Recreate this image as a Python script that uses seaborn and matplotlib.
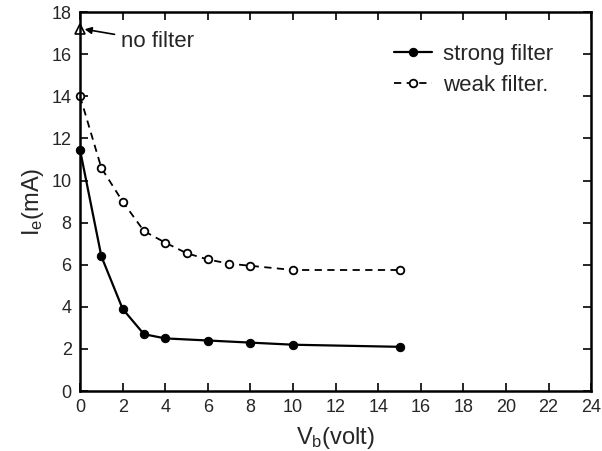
import numpy as np
import pandas as pd
import seaborn as sns
import matplotlib.pyplot as plt

# ----------------------------
# Data
# ----------------------------
strong_vb = [0, 1, 2, 3, 4, 6, 8, 10, 15]
strong_ie = [11.45, 6.4, 3.9, 2.7, 2.5, 2.4, 2.3, 2.2, 2.1]

weak_vb = [0, 1, 2, 3, 4, 5, 6, 7, 8, 10, 15]
weak_ie = [14.0, 10.6, 9.0, 7.6, 7.05, 6.55, 6.25, 6.05, 5.95, 5.75, 5.75]

nofilter_vb = [0]
nofilter_ie = [17.2]

xticks = list(range(0, 25, 2))
yticks = list(range(0, 19, 2))

sns.set_style("ticks")
plt.rcParams['font.family'] = ['Liberation Sans', 'DejaVu Sans']
plt.rcParams['mathtext.fontset'] = 'custom'
plt.rcParams['mathtext.rm'] = 'Liberation Sans'
plt.rcParams['mathtext.it'] = 'Liberation Sans'

fig = plt.figure(figsize=(6.02, 4.51), dpi=100)
ax = fig.add_axes([0.133, 0.133, 0.849, 0.840])

strong = pd.DataFrame({"vb": strong_vb, "ie": strong_ie})
weak = pd.DataFrame({"vb": weak_vb, "ie": weak_ie})

sns.lineplot(data=strong, x="vb", y="ie", ax=ax, color="black", lw=1.6,
             marker="o", markersize=6, markerfacecolor="black",
             markeredgecolor="black", label="strong filter", clip_on=False)
sns.lineplot(data=weak, x="vb", y="ie", ax=ax, color="black", lw=1.3,
             linestyle=(0, (4, 3)), marker="o", markersize=5.5,
             markerfacecolor="white", markeredgecolor="black",
             markeredgewidth=1.3, label="weak filter.", clip_on=False)

ax.plot(nofilter_vb, nofilter_ie, marker="^", markersize=7, color="black",
        markerfacecolor="white", markeredgewidth=1.2, ls="none", clip_on=False)
ax.annotate("no filter", xy=(0.15, 17.2), xytext=(1.9, 16.6),
            fontsize=16, va="center",
            arrowprops=dict(arrowstyle="-|>", color="black", lw=1.2,
                            shrinkA=2, shrinkB=1, mutation_scale=10))

ax.set_xlim(0, 24)
ax.set_ylim(0, 18)
ax.set_xticks(xticks)
ax.set_yticks(yticks)
ax.tick_params(direction="in", length=6, width=1.4, labelsize=13,
               top=True, right=True, pad=6)
for s in ax.spines.values():
    s.set_linewidth(1.8)
    s.set_color("black")

ax.set_xlabel("V$_\\mathrm{b}$(volt)", fontsize=17, labelpad=6)
ax.set_ylabel("I$_\\mathrm{e}$(mA)", fontsize=17, labelpad=4)

leg = ax.legend(loc="upper right", bbox_to_anchor=(0.965, 0.97), frameon=False,
                fontsize=16, handlelength=1.7, handletextpad=0.5,
                labelspacing=0.45)

plt.savefig("out.png", dpi=100)
